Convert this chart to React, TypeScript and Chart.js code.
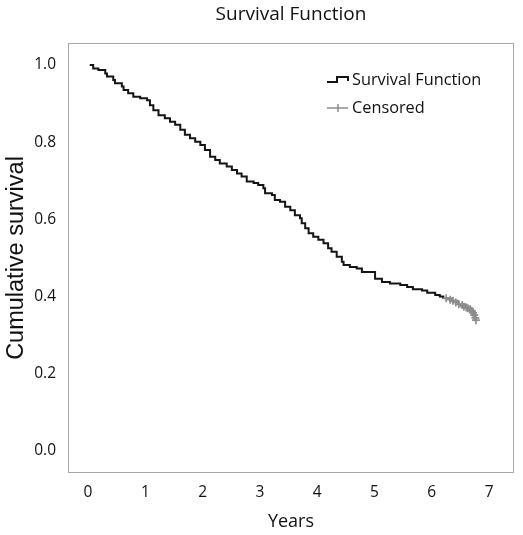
import React, { useEffect, useRef } from 'react';
import { Chart, registerables } from 'chart.js';

Chart.register(...registerables);

// Kaplan-Meier step points (time in years, cumulative survival after the step)
const eventTimes = [
  0.03, 0.09, 0.18, 0.3, 0.33, 0.44, 0.47, 0.59, 0.62, 0.7, 0.79, 0.91, 1.03, 1.08, 1.14,
  1.23, 1.34, 1.43, 1.52, 1.61, 1.69, 1.78, 1.87, 1.96, 2.04, 2.13, 2.22, 2.3, 2.42, 2.51,
  2.6, 2.68, 2.77, 2.89, 2.97, 3.06, 3.09, 3.21, 3.26, 3.35, 3.44, 3.53, 3.61, 3.7, 3.73,
  3.79, 3.85, 3.93, 4.02, 4.11, 4.19, 4.25, 4.34, 4.43, 4.46, 4.57, 4.69, 4.78, 5.01, 5.13,
  5.27, 5.45, 5.57, 5.67, 5.83, 5.92, 6.06, 6.14, 6.2, 6.35, 6.46, 6.58, 6.67, 6.72, 6.76, 6.77,
];
const survival = [
  1.0, 0.991, 0.987, 0.978, 0.97, 0.961, 0.953, 0.944, 0.935, 0.927, 0.918, 0.914, 0.909, 0.896, 0.883,
  0.87, 0.862, 0.853, 0.845, 0.832, 0.819, 0.81, 0.801, 0.793, 0.78, 0.762, 0.754, 0.745, 0.737, 0.728,
  0.719, 0.711, 0.698, 0.694, 0.689, 0.681, 0.668, 0.663, 0.65, 0.646, 0.633, 0.624, 0.611, 0.603, 0.59,
  0.577, 0.564, 0.555, 0.547, 0.538, 0.525, 0.516, 0.503, 0.49, 0.482, 0.477, 0.473, 0.464, 0.446, 0.438,
  0.434, 0.43, 0.425, 0.419, 0.416, 0.41, 0.404, 0.4, 0.396, 0.389, 0.38, 0.374, 0.367, 0.358, 0.345, 0.339,
];
const censorTimes = [
  6.25, 6.32, 6.37, 6.42, 6.47, 6.53, 6.56, 6.6, 6.63, 6.67, 6.7, 6.72, 6.74, 6.76, 6.77,
];
const censorSurvival = [
  0.396, 0.392, 0.389, 0.385, 0.38, 0.378, 0.374, 0.372, 0.37, 0.367, 0.363, 0.358, 0.352, 0.345, 0.339,
];
const censorStart = 6.2;
const xTicks = [0, 1, 2, 3, 4, 5, 6, 7];
const yTicks = [0, 0.2, 0.4, 0.6, 0.8, 1.0];

const TITLE = 'Survival Function';
const X_TITLE = 'Years';
const Y_TITLE = 'Cumulative survival';
const LEGEND_LABELS = ['Survival Function', 'Censored'];

const BLACK = '#141414';
const GREY = '#8c8c8c';
const TEXT = '#111111';
const FONT = "'Open Sans', sans-serif";

export default function App() {
  const ref = useRef<HTMLCanvasElement>(null);

  useEffect(() => {
    const canvas = ref.current;
    if (!canvas) return;

    const framePlugin = {
      id: 'frame',
      beforeDatasetsDraw(chart: any) {
        const { ctx, chartArea: a } = chart;
        ctx.save();
        ctx.strokeStyle = '#a8a8a8';
        ctx.lineWidth = 1;
        ctx.strokeRect(Math.round(a.left) + 0.5, Math.round(a.top) + 0.5, Math.round(a.right - a.left) - 1, Math.round(a.bottom - a.top) - 1);
        ctx.restore();
      },
      afterDraw(chart: any) {
        const { ctx, chartArea: a } = chart;
        ctx.save();
        // title
        ctx.fillStyle = TEXT;
        ctx.font = `19px ${FONT}`;
        ctx.textAlign = 'center';
        ctx.textBaseline = 'middle';
        ctx.fillText(TITLE, (a.left + a.right) / 2, 15);
        // legend
        const lx = a.left + 259;
        const y1 = a.top + 37;
        const y2 = a.top + 65;
        ctx.strokeStyle = BLACK;
        ctx.lineWidth = 2;
        ctx.beginPath();
        ctx.moveTo(lx, y1 + 2);
        ctx.lineTo(lx + 10, y1 + 2);
        ctx.lineTo(lx + 10, y1 - 3);
        ctx.lineTo(lx + 21, y1 - 3);
        ctx.lineTo(lx + 21, y1 + 1);
        ctx.stroke();
        ctx.strokeStyle = GREY;
        ctx.lineWidth = 1.5;
        ctx.beginPath();
        ctx.moveTo(lx, y2);
        ctx.lineTo(lx + 21, y2);
        ctx.moveTo(lx + 11, y2 - 4);
        ctx.lineTo(lx + 11, y2 + 4);
        ctx.stroke();
        ctx.fillStyle = TEXT;
        ctx.font = `16.3px ${FONT}`;
        ctx.textAlign = 'left';
        ctx.fillText(LEGEND_LABELS[0], lx + 25, y1);
        ctx.fillText(LEGEND_LABELS[1], lx + 25, y2);
        ctx.restore();
      },
    };

    const chart = new Chart(canvas, {
      type: 'line',
      data: {
        datasets: [
          {
            label: LEGEND_LABELS[0],
            data: eventTimes.map((t, i) => ({ x: t, y: survival[i] })),
            borderColor: BLACK,
            borderWidth: 2,
            stepped: true,
            pointRadius: 0,
            fill: false,
            segment: {
              borderColor: (c: any) => (c.p0.parsed.x >= censorStart - 1e-9 ? GREY : BLACK),
            },
          },
          {
            label: LEGEND_LABELS[1],
            data: censorTimes.map((t, i) => ({ x: t, y: censorSurvival[i] })),
            showLine: false,
            pointStyle: 'cross',
            pointRadius: 4,
            pointBorderColor: GREY,
            pointBorderWidth: 1.6,
            borderColor: GREY,
          },
        ],
      },
      plugins: [framePlugin],
      options: {
        responsive: false,
        animation: false,
        events: [],
        layout: { padding: { top: 43, right: 9, left: 0, bottom: 0 } },
        plugins: {
          legend: { display: false },
          tooltip: { enabled: false },
          title: { display: false },
        },
        scales: {
          x: {
            type: 'linear',
            min: -0.35,
            max: 7.435,
            afterBuildTicks: (s: any) => {
              s.ticks = xTicks.map((v) => ({ value: v }));
            },
            afterFit: (s: any) => {
              s.height = 62;
            },
            grid: { display: false, drawTicks: false },
            border: { display: false },
            ticks: {
              padding: 10,
              color: TEXT,
              font: { family: FONT, size: 15.5 },
              maxRotation: 0,
              callback: (v: any) => String(v),
            },
            title: {
              display: true,
              text: X_TITLE,
              color: TEXT,
              font: { family: FONT, size: 18 },
              padding: { top: 0, bottom: 2 },
            },
          },
          y: {
            type: 'linear',
            min: -0.057,
            max: 1.057,
            afterBuildTicks: (s: any) => {
              s.ticks = yTicks.map((v) => ({ value: v }));
            },
            afterFit: (s: any) => {
              s.width = 68;
            },
            grid: { display: false, drawTicks: false },
            border: { display: false },
            ticks: {
              padding: 12,
              color: TEXT,
              font: { family: FONT, size: 15.5 },
              callback: (v: any) => Number(v).toFixed(1),
            },
            title: {
              display: true,
              text: Y_TITLE,
              color: '#111',
              font: { family: "'Liberation Sans', Arial, sans-serif", size: 23.5 },
              padding: { top: 2, bottom: 0 },
            },
          },
        },
      },
    });

    return () => chart.destroy();
  }, []);

  return (
    <div style={{ position: 'absolute', left: 0, top: 0, width: 523, height: 535, background: '#fff' }}>
      <canvas ref={ref} width={523} height={535} style={{ display: 'block', width: 523, height: 535 }} />
    </div>
  );
}
